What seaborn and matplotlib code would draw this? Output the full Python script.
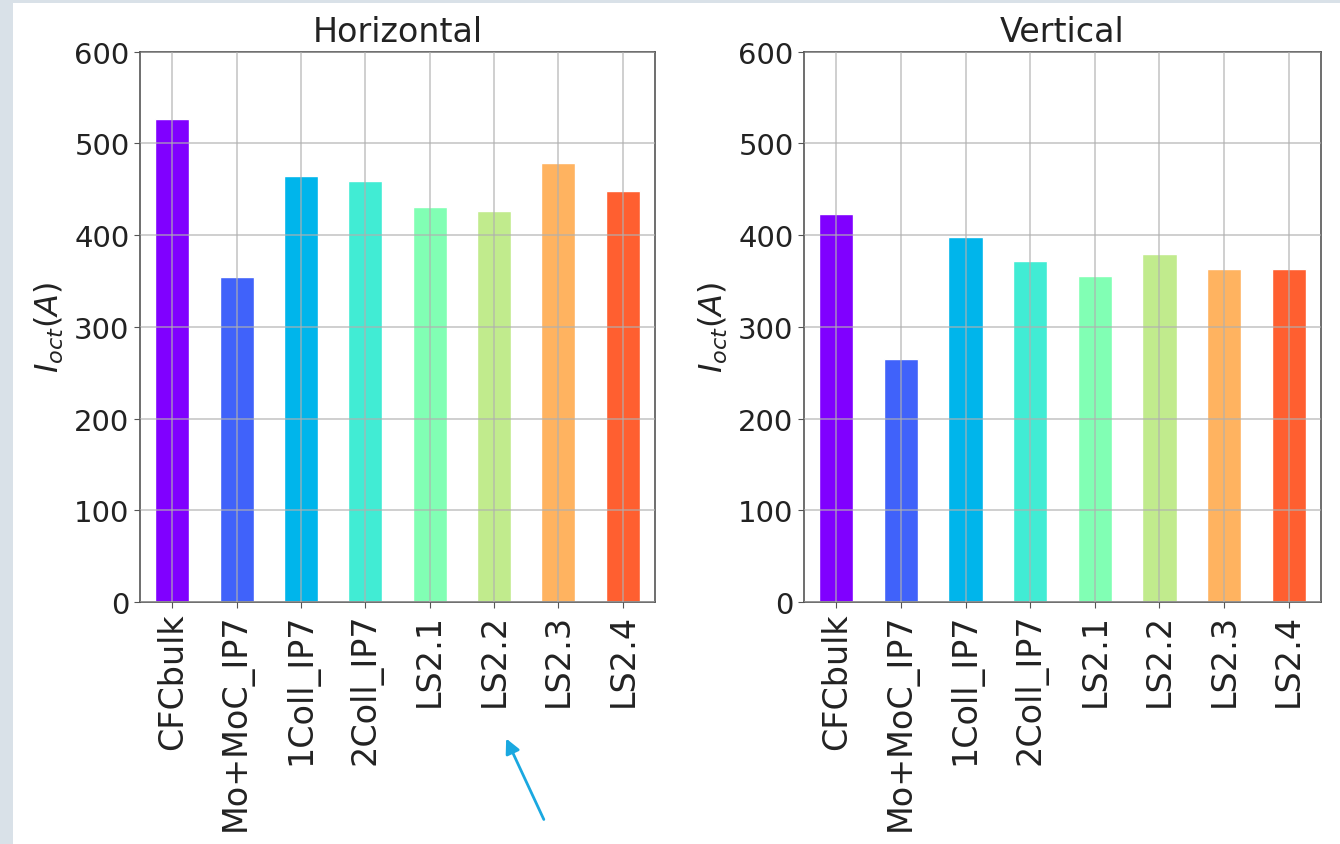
import numpy as np
import matplotlib
matplotlib.use('Agg')
import matplotlib.pyplot as plt
import seaborn as sns
from matplotlib.patches import Rectangle, FancyArrowPatch

# Data
samples = ['CFCbulk', 'Mo+MoC_IP7', '1Coll_IP7', '2Coll_IP7', 'LS2.1', 'LS2.2', 'LS2.3', 'LS2.4']
horizontal = [527, 354, 464, 459, 431, 426, 479, 448]
vertical = [423, 265, 398, 372, 355, 379, 363, 363]
panel_titles = ['Horizontal', 'Vertical']
y_ticks = [0, 100, 200, 300, 400, 500, 600]

sns.set_style('ticks')
plt.rcParams['font.family'] = ['DejaVu Sans']
plt.rcParams['mathtext.fontset'] = 'dejavusans'

colors = [plt.cm.rainbow(i / len(samples)) for i in range(len(samples))]

fig = plt.figure(figsize=(13.4, 8.45), dpi=100)
fig.patch.set_facecolor('#d9e1e8')
# white page area (reference is a screenshot with a grey frame on left/top)
fig.patches.append(Rectangle((13 / 1340, 0), 1 - 13 / 1340, 1 - 4 / 845,
                             transform=fig.transFigure, facecolor='white',
                             edgecolor='none', zorder=-5))

ax_left = fig.add_axes([0.1045, 0.2864, 0.3843, 0.6512])
ax_right = fig.add_axes([0.6, 0.2864, 0.3858, 0.6512])

for ax, vals, title in zip([ax_left, ax_right], [horizontal, vertical], panel_titles):
    sns.barplot(x=samples, y=vals, hue=samples, palette=colors, legend=False,
                width=0.53, saturation=1, ax=ax)
    ax.set_xlim(-0.5, len(samples) - 0.5)
    ax.set_ylim(0, 600)
    ax.set_yticks(y_ticks)
    ax.set_title(title, fontsize=24, pad=8, color='#222222')
    ax.set_ylabel(r'$I_{oct}(A)$', fontsize=23, labelpad=6, color='#222222')
    ax.set_xlabel('')
    ax.tick_params(axis='y', labelsize=21, length=4, color='#555555', labelcolor='#222222')
    ax.tick_params(axis='x', labelsize=24, length=4, color='#555555', labelcolor='#222222',
                   labelrotation=90)
    ax.grid(True, color='#b0b0b0', linewidth=1.2, alpha=0.7)
    ax.set_axisbelow(False)
    for s in ax.spines.values():
        s.set_visible(True)
        s.set_color('#555555')
        s.set_linewidth(1.2)
    ax.set_facecolor('white')

# blue annotation arrow pointing at the LS2.2 label
fig.patches.append(FancyArrowPatch(
    (545 / 1340, 1 - 823 / 845), (505 / 1340, 1 - 737 / 845),
    transform=fig.transFigure, arrowstyle='-|>', mutation_scale=22,
    color='#1aa8e0', linewidth=2, zorder=5))

fig.savefig('out.png', dpi=100)
